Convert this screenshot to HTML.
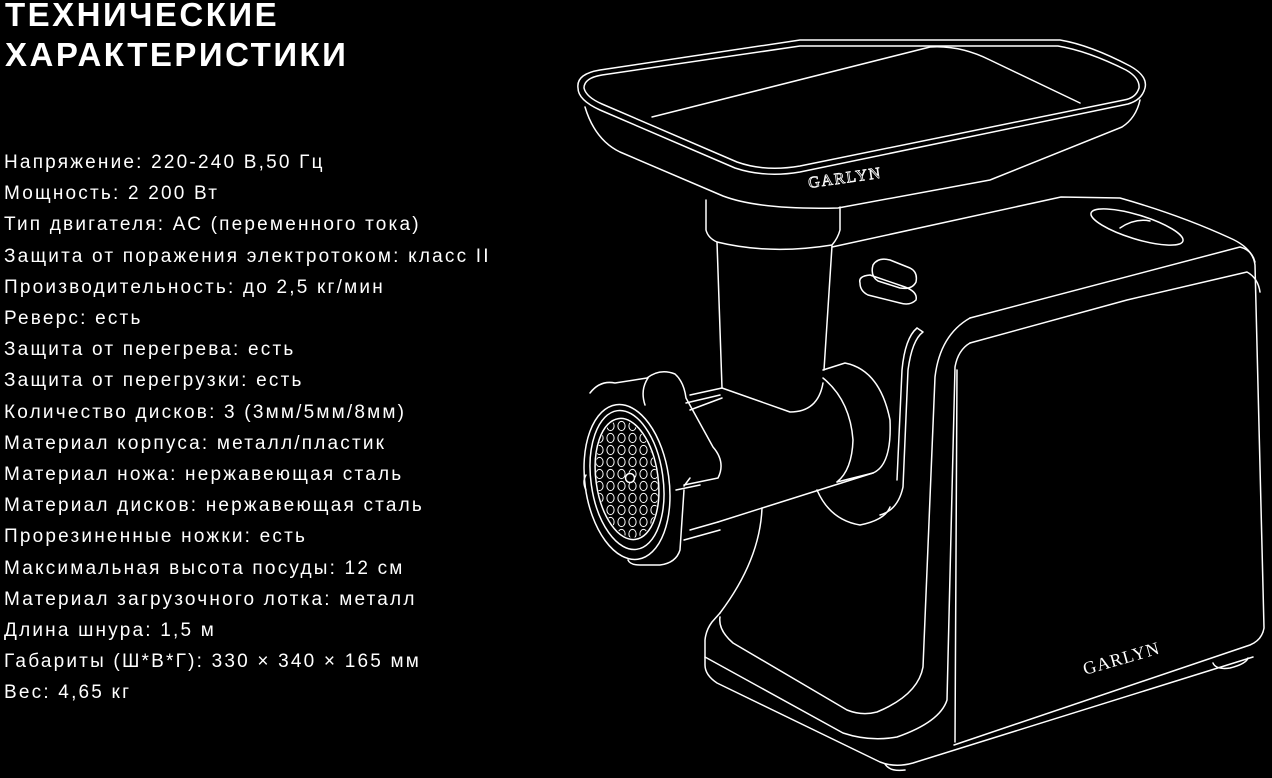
<!DOCTYPE html>
<html><head><meta charset="utf-8"><style>
html,body{margin:0;padding:0;background:#000;}
body{width:1272px;height:778px;overflow:hidden;position:relative;font-family:"Liberation Sans","DejaVu Sans",sans-serif;color:#fff;}
h1{position:absolute;left:5px;top:-5px;margin:0;font-size:33px;line-height:40px;font-weight:bold;letter-spacing:2.5px;}
ul{position:absolute;left:4px;top:147px;margin:0;padding:0;list-style:none;font-size:19px;line-height:31.2px;letter-spacing:2.2px;}
svg{position:absolute;left:0;top:0;}
</style></head><body>
<h1>ТЕХНИЧЕСКИЕ<br>ХАРАКТЕРИСТИКИ</h1>
<ul>
<li>Напряжение: 220-240 В,50 Гц</li>
<li>Мощность: 2 200 Вт</li>
<li>Тип двигателя: АС (переменного тока)</li>
<li>Защита от поражения электротоком: класс II</li>
<li>Производительность: до 2,5 кг/мин</li>
<li>Реверс: есть</li>
<li>Защита от перегрева: есть</li>
<li>Защита от перегрузки: есть</li>
<li>Количество дисков: 3 (3мм/5мм/8мм)</li>
<li>Материал корпуса: металл/пластик</li>
<li>Материал ножа: нержавеющая сталь</li>
<li>Материал дисков: нержавеющая сталь</li>
<li>Прорезиненные ножки: есть</li>
<li>Максимальная высота посуды: 12 см</li>
<li>Материал загрузочного лотка: металл</li>
<li>Длина шнура: 1,5 м</li>
<li>Габариты (Ш*В*Г): 330 × 340 × 165 мм</li>
<li>Вес: 4,65 кг</li>
</ul>
<svg width="1272" height="778" viewBox="0 0 1272 778" fill="none" stroke="#fff" stroke-width="1.5" stroke-linecap="round" stroke-linejoin="round">
<defs>
<pattern id="holes" x="0" y="0" width="11" height="12" patternUnits="userSpaceOnUse">
<ellipse cx="5.5" cy="6" rx="3.6" ry="4.6" stroke="#fff" stroke-width="1" fill="none"/>
</pattern>
<clipPath id="plate"><ellipse cx="627" cy="479" rx="30" ry="59" transform="rotate(-8 627 479)"/></clipPath>
</defs>
<!-- tray -->
<path d="M578,88 Q576,74 600,70 L800,40 L1060,40 Q1090,45 1130,66 Q1148,76 1145,88 Q1142,100 1128,104 L800,172 Q765,178 735,168 L600,110 Q578,100 578,88 Z"/>
<path d="M584,88 Q584,78 602,75 L800,46 L1058,46 Q1088,51 1126,70 Q1140,78 1139,88 Q1136,98 1124,100 L800,166 Q765,172 737,162 L602,104 Q586,97 584,88"/>
<path d="M652,117 L930,47 Q960,45 990,60 L1080,103"/>
<path d="M585,107 Q595,140 620,152 L723,196 Q760,210 838,208 L990,180 L1122,127 Q1136,118 1140,100"/>
<text x="809" y="188" transform="rotate(-8 809 188)" font-family="Liberation Serif,serif" font-size="16" letter-spacing="1.5" fill="none" stroke="#fff" stroke-width="0.8">GARLYN</text>
<!-- neck & column -->
<path d="M706,200 L706,230 Q708,238 717,242 Q770,255 832,245 Q838,238 840,230 L840,207"/>
<path d="M717,242 L722,388 M832,246 L824,370"/>
<path d="M690,395 L722,388 L790,412 Q818,412 823,383"/>
<!-- body top -->
<path d="M832,247 L1061,197 L1120,198 Q1180,215 1230,238 Q1253,248 1255,265 L1264,628 Q1262,640 1250,645 L954,745"/>
<path d="M970,318 L1240,247 Q1252,250 1255,262"/>
<path d="M970,343 L1127,300 L1247,272 Q1258,278 1260,292"/>
<path d="M1253,657 L913,763 Q895,768 880,762 L717,683 Q705,675 705,665 L705,640 Q706,630 712,622 L720,613"/>
<path d="M705,657 L843,733 Q870,742 897,737 Q940,722 947,700 L955,367 Q958,350 970,343"/>
<path d="M720,617 Q718,630 733,643 L847,710 Q862,716 877,712 Q918,695 923,667 L935,377 Q940,335 970,318"/>
<path d="M957,370 L955,742"/>
<path d="M1213,663 Q1216,670 1230,668 Q1246,664 1248,658"/>
<path d="M885,764 Q890,772 905,770"/>
<ellipse cx="1137" cy="227" rx="48" ry="12" transform="rotate(17 1137 227)"/>
<path d="M1120,228 Q1135,218 1150,221"/>
<path d="M860,283 Q858,276 870,275 L905,287 Q918,292 916,300 Q910,306 900,303 L868,295 Q860,291 860,283 Z"/>
<path d="M873,265 Q878,257 890,260 L910,268 Q918,272 916,282 Q912,290 900,288 L878,281 Q870,276 873,265 Z"/>
<!-- slot -->
<path d="M917,328 L923,332 Q912,340 908,370 L903,487 Q898,510 880,515"/>
<path d="M917,328 Q905,338 902,370 L897,480"/>
<!-- collar -->
<path d="M823,370 L845,363 Q880,370 890,420 Q892,465 873,473 L837,482"/>
<path d="M823,378 Q850,400 853,440 Q852,470 837,482"/>
<path d="M817,490 Q830,520 860,525 Q885,520 890,507"/>
<!-- tube -->
<path d="M718,522 L873,473"/>
<path d="M762,508 Q760,560 720,613"/>
<!-- nut -->
<path d="M590,393 Q600,380 615,383 L647,378 Q660,368 675,374 Q684,382 686,398 L713,447 Q726,462 718,478 L684,485"/>
<path d="M648,378 Q640,390 645,405 M690,410 L722,398 M686,403 L720,395"/>
<path d="M684,490 L680,550 Q676,563 660,565 L640,565 Q630,565 628,560"/>
<path d="M684,486 L690,478 M676,490 L700,485"/>
<path d="M718,522 L690,530 M720,530 L684,540"/>
<ellipse cx="627" cy="482" rx="42" ry="78" transform="rotate(-8 627 482)"/>
<ellipse cx="627" cy="480" rx="36" ry="70" transform="rotate(-8 627 480)"/>
<ellipse cx="627" cy="479" rx="31" ry="61" transform="rotate(-8 627 479)"/>
<rect x="590" y="410" width="80" height="140" fill="url(#holes)" stroke="none" clip-path="url(#plate)"/>
<circle cx="630" cy="478" r="4.5" fill="#000"/>
<path d="M586,475 Q582,482 586,490"/>
<text x="1085" y="675" transform="rotate(-16 1085 675)" font-family="Liberation Serif,serif" font-size="18" letter-spacing="1" fill="#fff" stroke="none">GARLYN</text>
</svg>
</body></html>
